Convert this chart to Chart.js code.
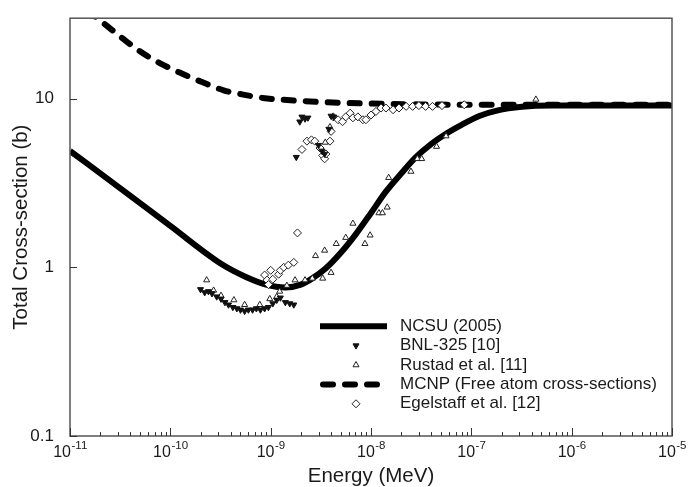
<!DOCTYPE html>
<html>
<head>
<meta charset="utf-8">
<script src="https://cdn.jsdelivr.net/npm/chart.js@4.4.0/dist/chart.umd.min.js"></script>
<style>
  body { margin: 0; background: #fff; }
  #wrap { width: 688px; height: 487px; }
</style>
</head>
<body>
<div id="wrap"><canvas id="xs"></canvas></div>
<script>
// energies in MeV, total cross-sections in barns
const ncsuE  = [1e-11, 3.2e-11, 1e-10, 3.2e-10, 5.6e-10, 9e-10, 1.4e-9, 2e-9, 2.6e-9, 3.5e-9, 5e-9, 7.1e-9, 1e-8, 1.4e-8, 2e-8, 2.8e-8, 4e-8, 5.6e-8, 8e-8, 1.2e-7, 1.8e-7, 3.2e-7, 6.3e-7, 3e-6, 1e-5];
const ncsuXS = [4.9, 2.93, 1.76, 1.05, 0.88, 0.79, 0.76, 0.79, 0.86, 0.98, 1.22, 1.58, 2.1, 2.8, 3.6, 4.5, 5.4, 6.2, 7.0, 7.9, 8.5, 8.95, 9.1, 9.1, 9.1];

const mcnpE  = [1e-11, 2.1e-11, 3.4e-11, 5.1e-11, 8.1e-11, 1.3e-10, 2.1e-10, 3.4e-10, 5.2e-10, 8.3e-10, 2e-9, 5e-9, 1e-8, 3e-8, 1e-7, 1e-6, 1e-5];
const mcnpXS = [40, 28.4, 22.6, 18.9, 16.1, 14.1, 12.5, 11.2, 10.6, 10.1, 9.7, 9.45, 9.35, 9.25, 9.2, 9.2, 9.2];

const bnlE  = [2e-10, 2.2e-10, 2.4e-10, 2.6e-10, 2.9e-10, 3.2e-10, 3.5e-10, 3.8e-10, 4.2e-10, 4.6e-10,
               5e-10, 5.5e-10, 6e-10, 6.6e-10, 7.2e-10, 7.9e-10, 8.7e-10, 9.5e-10, 1.05e-9, 1.15e-9,
               1.25e-9, 1.4e-9, 1.55e-9, 1.7e-9, 1.8e-9, 1.95e-9, 2.05e-9, 2.2e-9, 2.35e-9, 3e-9,
               3.25e-9, 3.45e-9, 3.8e-9, 4e-9, 4.25e-9];
const bnlXS = [0.74, 0.71, 0.72, 0.70, 0.67, 0.65, 0.62, 0.60, 0.58, 0.57,
               0.56, 0.55, 0.56, 0.56, 0.57, 0.56, 0.57, 0.58, 0.61, 0.64,
               0.66, 0.62, 0.61, 0.60, 4.5, 7.3, 7.8, 7.6, 7.7, 5.3,
               4.9, 4.7, 6.6, 7.9, 7.8];

const rustadE  = [2.3e-10, 2.7e-10, 3.2e-10, 4.3e-10, 5.5e-10, 7.8e-10, 9.8e-10, 1.15e-9, 1.23e-9, 1.45e-9,
                  1.75e-9, 2.2e-9, 2.6e-9, 2.8e-9, 3.3e-9, 3.45e-9, 3.5e-9, 3.9e-9, 4e-9, 4.5e-9,
                  5.6e-9, 6.6e-9, 8.7e-9, 9.8e-9, 1.2e-8, 1.3e-8, 1.45e-8, 1.5e-8, 2.5e-8, 2.9e-8,
                  3.2e-8, 4.5e-8, 5.6e-8, 4.4e-7];
const rustadXS = [0.84, 0.73, 0.68, 0.64, 0.6, 0.6, 0.65, 0.67, 0.72, 0.78,
                  0.84, 0.84, 0.86, 1.17, 0.86, 1.26, 5.5, 6.8, 0.93, 1.38,
                  1.5, 1.82, 1.38, 1.55, 2.1, 2.1, 2.27, 3.4, 3.7, 4.4,
                  4.4, 5.2, 6.0, 9.9];

const egelE  = [8.7e-10, 9.2e-10, 9.5e-10, 1e-9, 1.05e-9, 1.2e-9, 1.25e-9, 1.35e-9, 1.5e-9, 1.7e-9,
                1.85e-9, 2.05e-9, 2.3e-9, 2.55e-9, 2.75e-9, 3.1e-9, 3.3e-9, 3.45e-9, 3.55e-9, 3.9e-9,
                4e-9, 4.2e-9, 4.7e-9, 5.2e-9, 5.6e-9, 6.2e-9, 6.6e-9, 7.4e-9, 8.3e-9, 8.9e-9,
                1e-8, 1.12e-8, 1.26e-8, 1.41e-8, 1.66e-8, 1.9e-8, 2.24e-8, 2.6e-8, 3e-8, 3.5e-8,
                4.1e-8, 5.1e-8, 8.5e-8];
const egelXS = [0.9, 0.84, 0.79, 0.96, 0.85, 0.91, 0.96, 1.0, 1.03, 1.07,
                1.6, 5.0, 5.6, 5.7, 5.6, 5.1, 4.6, 4.4, 4.7, 5.6,
                6.4, 7.8, 7.5, 7.3, 7.8, 8.2, 7.7, 7.8, 7.5, 7.5,
                8.0, 8.4, 8.8, 8.8, 8.6, 8.8, 9.0, 9.0, 9.1, 9.0,
                9.0, 9.1, 9.2];

const yTickValues = [0.1, 1, 10];
const xDecades = [-11, -10, -9, -8, -7, -6, -5];

const FONT = "'Liberation Sans', Arial, sans-serif";
const INK = '#1a1a1a';

function pts(xs, ys) {
  return xs.map((x, i) => ({ x: x, y: ys[i] }));
}

// box, inward tick marks and the superscripted decade labels
const framePlugin = {
  id: 'frame',
  afterDatasetsDraw(chart) {
    const ctx = chart.ctx;
    const a = chart.chartArea;
    const xs = chart.scales.x, ys = chart.scales.y;
    ctx.save();
    ctx.strokeStyle = '#555';
    ctx.lineWidth = 1.5;
    ctx.strokeRect(a.left, a.top, a.right - a.left, a.bottom - a.top);

    ctx.strokeStyle = '#333';
    ctx.lineWidth = 1;
    ctx.beginPath();
    xs.ticks.forEach(t => {
      const lg = Math.log10(t.value);
      const major = Math.abs(lg - Math.round(lg)) < 1e-6;
      const px = Math.round(xs.getPixelForValue(t.value)) + 0.5;
      ctx.moveTo(px, a.bottom);
      ctx.lineTo(px, a.bottom - (major ? 8 : 4));
    });
    ys.ticks.forEach(t => {
      const py = Math.round(ys.getPixelForValue(t.value)) + 0.5;
      ctx.moveTo(a.left, py);
      ctx.lineTo(a.left + 7, py);
    });
    ctx.stroke();

    ctx.fillStyle = INK;
    ctx.textBaseline = 'alphabetic';
    xDecades.forEach(p => {
      const px = xs.getPixelForValue(Math.pow(10, p));
      const base = '10', sup = '-' + Math.abs(p);
      ctx.font = '16px ' + FONT;
      const wb = ctx.measureText(base).width;
      ctx.font = '11.5px ' + FONT;
      const ws = ctx.measureText(sup).width;
      const x0 = px - (wb + ws) / 2;
      ctx.font = '16px ' + FONT;
      ctx.textAlign = 'left';
      ctx.fillText(base, x0, a.bottom + 21);
      ctx.font = '11.5px ' + FONT;
      ctx.fillText(sup, x0 + wb + 0.5, a.bottom + 13);
    });
    ctx.restore();
  }
};

// legend box inside the plot, built from the dataset styles
const legendPlugin = {
  id: 'xsLegend',
  afterDraw(chart) {
    const ctx = chart.ctx;
    const a = chart.chartArea;
    const x0 = a.left + 250, y0 = a.top + 308, step = 19.4;
    chart.data.datasets.forEach((ds, i) => {
      const y = y0 + i * step;
      ctx.save();
      if (ds.showLine) {
        ctx.strokeStyle = ds.borderColor;
        ctx.lineWidth = ds.borderWidth;
        ctx.setLineDash(ds.borderDash || []);
        ctx.lineCap = ds.borderCapStyle || 'butt';
        ctx.beginPath();
        const inset = ds.borderDash ? 3 : 0;
        ctx.moveTo(x0 + inset, y);
        ctx.lineTo(x0 + 67 - inset, y);
        ctx.stroke();
      } else {
        ctx.fillStyle = ds.pointBackgroundColor;
        ctx.strokeStyle = ds.pointBorderColor;
        ctx.lineWidth = ds.pointBorderWidth;
        Chart.helpers.drawPoint(ctx, {
          pointStyle: ds.pointStyle,
          rotation: ds.pointRotation || 0,
          radius: ds.pointRadius,
          borderWidth: ds.pointBorderWidth
        }, x0 + 36, y);
      }
      ctx.fillStyle = INK;
      ctx.font = '17px ' + FONT;
      ctx.textAlign = 'left';
      ctx.textBaseline = 'middle';
      ctx.fillText(ds.label, x0 + 80, y);
      ctx.restore();
    });
  }
};

const ctx = document.getElementById('xs').getContext('2d');
const chart = new Chart(ctx, {
  type: 'scatter',
  data: {
    datasets: [
      {
        label: 'NCSU (2005)',
        data: pts(ncsuE, ncsuXS),
        showLine: true,
        borderColor: '#000',
        borderWidth: 6,
        pointRadius: 0,
        cubicInterpolationMode: 'monotone',
        clip: 0,
        order: 2
      },
      {
        label: 'BNL-325 [10]',
        data: pts(bnlE, bnlXS),
        showLine: false,
        pointStyle: 'triangle',
        pointRotation: 180,
        pointRadius: 3.5,
        pointBackgroundColor: '#111',
        pointBorderColor: '#111',
        pointBorderWidth: 1,
        order: 1
      },
      {
        label: 'Rustad et al. [11]',
        data: pts(rustadE, rustadXS),
        showLine: false,
        pointStyle: 'triangle',
        pointRadius: 3.5,
        pointBackgroundColor: '#fff',
        pointBorderColor: '#222',
        pointBorderWidth: 1,
        order: 1
      },
      {
        label: 'MCNP (Free atom cross-sections)',
        data: pts(mcnpE, mcnpXS),
        showLine: true,
        borderColor: '#000',
        borderWidth: 6,
        borderDash: [10, 12],
        borderCapStyle: 'round',
        pointRadius: 0,
        cubicInterpolationMode: 'monotone',
        clip: 0,
        order: 2
      },
      {
        label: 'Egelstaff et al. [12]',
        data: pts(egelE, egelXS),
        showLine: false,
        pointStyle: 'rectRot',
        pointRadius: 4,
        pointBackgroundColor: '#fff',
        pointBorderColor: '#222',
        pointBorderWidth: 1,
        order: 1
      }
    ]
  },
  options: {
    responsive: true,
    maintainAspectRatio: false,
    animation: false,
    layout: { padding: { top: 16, right: 16, left: 0, bottom: 0 } },
    plugins: {
      legend: { display: false },
      tooltip: { enabled: false }
    },
    scales: {
      x: {
        type: 'logarithmic',
        min: 1e-11,
        max: 1e-5,
        grid: { display: false },
        border: { display: false },
        ticks: { display: false },
        afterBuildTicks: (scale) => {
          const t = [];
          for (let p = -11; p < -5; p++) {
            for (let m = 1; m < 10; m++) t.push({ value: m * Math.pow(10, p) });
          }
          t.push({ value: 1e-5 });
          scale.ticks = t;
        },
        afterFit: (scale) => { scale.height = 51; },
        title: {
          display: true,
          text: 'Energy (MeV)',
          color: INK,
          font: { family: FONT, size: 20.5, lineHeight: 1 },
          padding: { top: 0, bottom: 0 }
        }
      },
      y: {
        type: 'logarithmic',
        min: 0.1,
        max: 30,
        grid: { display: false },
        border: { display: false },
        afterBuildTicks: (scale) => {
          scale.ticks = yTickValues.map(v => ({ value: v }));
        },
        afterFit: (scale) => { scale.width = 70; },
        ticks: {
          padding: 8,
          color: INK,
          font: { family: FONT, size: 17 },
          callback: (v) => String(v)
        },
        title: {
          display: true,
          text: 'Total Cross-section (b)',
          color: INK,
          font: { family: FONT, size: 20.5 },
          padding: { top: 9, bottom: 0 }
        }
      }
    }
  },
  plugins: [framePlugin, legendPlugin]
});
</script>
</body>
</html>
